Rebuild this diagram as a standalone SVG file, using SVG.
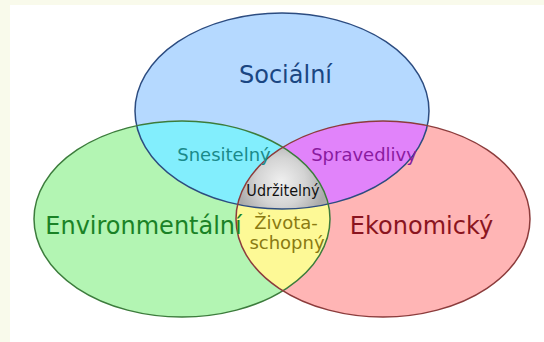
<svg xmlns="http://www.w3.org/2000/svg" xmlns:xlink="http://www.w3.org/1999/xlink" width="544" height="342" viewBox="0 0 544 342">
  <style>
    .lbl { font-family: "DejaVu Sans", "Liberation Sans", sans-serif; text-anchor: middle; }
    .big { font-size: 24px; }
    .mid { font-size: 18px; }
    .cond { font-family: "DejaVu Sans Condensed", "DejaVu Sans", sans-serif; font-stretch: condensed; font-size: 16px; }
    .edge { fill: none; stroke-width: 1.5; }
  </style>
  <defs>
    <ellipse id="eS" cx="282" cy="111" rx="147" ry="98"/>
    <ellipse id="eE" cx="182" cy="219" rx="148" ry="98"/>
    <ellipse id="eK" cx="383" cy="219" rx="147" ry="98"/>
    <clipPath id="cS"><use xlink:href="#eS"/></clipPath>
    <clipPath id="cE"><use xlink:href="#eE"/></clipPath>
    <radialGradient id="gGray" gradientUnits="userSpaceOnUse" cx="281" cy="182" r="44">
      <stop offset="0" stop-color="#f0f0f0"/>
      <stop offset="0.55" stop-color="#d4d4d4"/>
      <stop offset="1" stop-color="#ababab"/>
    </radialGradient>
  </defs>

  <rect x="0" y="0" width="544" height="342" fill="#ffffff"/>
  <rect x="0" y="0" width="544" height="5" fill="#f9faeb"/>
  <rect x="0" y="0" width="10" height="342" fill="#f9faeb"/>

  <g id="social"><use xlink:href="#eS" fill="#b5d9ff"/></g>
  <g id="environmental"><use xlink:href="#eE" fill="#b3f5b3"/></g>
  <g id="economic"><use xlink:href="#eK" fill="#ffb5b5"/></g>

  <g id="bearable"><use xlink:href="#eE" fill="#82eefd" clip-path="url(#cS)"/></g>
  <g id="equitable"><use xlink:href="#eK" fill="#e183fa" clip-path="url(#cS)"/></g>
  <g id="viable"><use xlink:href="#eK" fill="#fdf996" clip-path="url(#cE)"/></g>
  <g id="sustainable"><g clip-path="url(#cE)"><use xlink:href="#eK" fill="url(#gGray)" clip-path="url(#cS)"/></g></g>

  <g id="outlines">
    <use xlink:href="#eS" class="edge" stroke="#2c4c80"/>
    <use xlink:href="#eE" class="edge" stroke="#3c7c3c"/>
    <use xlink:href="#eK" class="edge" stroke="#8c3c3c"/>
  </g>

  <g id="connectors"/>

  <g id="labels">
    <text class="lbl big" x="285.5" y="83" fill="#1a4682">Sociální</text>
    <text class="lbl big" x="143.5" y="234" fill="#1a8226">Environmentální</text>
    <text class="lbl big" x="421.5" y="234" fill="#8a1420">Ekonomický</text>
    <text class="lbl mid" x="224" y="161" fill="#1a8a8a">Snesitelný</text>
    <text class="lbl mid" x="364" y="161" fill="#8a1aa0">Spravedlivy</text>
    <text class="lbl cond" x="283" y="196" fill="#111111">Udržitelný</text>
    <text class="lbl mid" x="286" y="229" fill="#8a7a12">Života-</text>
    <text class="lbl mid" x="287" y="249" fill="#8a7a12">schopný</text>
  </g>
</svg>
